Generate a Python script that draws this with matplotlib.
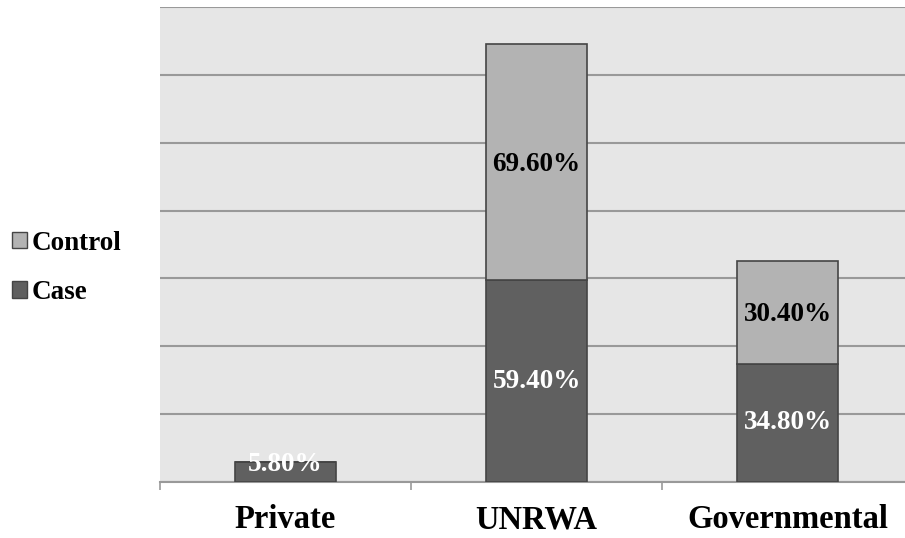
import matplotlib.pyplot as plt
from matplotlib.patches import Patch

categories = ["Private", "UNRWA", "Governmental"]
case_vals = [5.8, 59.4, 34.8]
control_vals = [0.0, 69.6, 30.4]

plt.rcParams['font.family'] = ['Liberation Serif', 'DejaVu Serif']

fig = plt.figure(figsize=(9.05, 5.38), dpi=100)
# plot area runs a little past the right edge, as in the original
ax = fig.add_axes([160 / 905, 56 / 538, 753 / 905, 475 / 538])
ax.set_facecolor('#e6e6e6')

x = list(range(len(categories)))
case_col = '#606060'
ctrl_col = '#b3b3b3'
edge = '#454545'

ax.bar(x, case_vals, width=0.4, color=case_col, edgecolor=edge, linewidth=1.2, zorder=3)
ax.bar(x, control_vals, width=0.4, bottom=case_vals, color=ctrl_col, edgecolor=edge,
       linewidth=1.2, zorder=3)

for i in x:
    c = case_vals[i]
    yc = c / 2 if c > 10 else c - 0.6
    ax.text(i, yc, f"{c:.2f}%", ha='center', va='center', color='white',
            fontsize=19.5, fontweight='bold', zorder=4)
    k = control_vals[i]
    if k > 0:
        ax.text(i, c + k / 2 - 0.6, f"{k:.2f}%", ha='center', va='center', color='black',
                fontsize=19.5, fontweight='bold', zorder=4)

ax.set_xlim(-0.5, 2.5)
ax.set_ylim(0, 140)
ax.set_yticks(range(0, 141, 20))
ax.yaxis.grid(True, color='#999999', linewidth=1.5, zorder=0)
ax.tick_params(axis='y', left=False, labelleft=False)

ax.set_xticks([-0.5, 0.5, 1.5], minor=True)
ax.set_xticks(x)
ax.set_xticklabels(categories, fontsize=23.5, fontweight='bold')
ax.tick_params(axis='x', which='major', length=0, pad=16)
ax.tick_params(axis='x', which='minor', length=6, color='#999999', width=1.2)

for s in ['top', 'right', 'left']:
    ax.spines[s].set_visible(False)
ax.spines['bottom'].set_color('#999999')
ax.spines['bottom'].set_linewidth(1.5)

handles = [Patch(facecolor=ctrl_col, edgecolor=edge, label='Control'),
           Patch(facecolor=case_col, edgecolor=edge, label='Case')]
fig.legend(handles=handles, loc='center left', bbox_to_anchor=(-0.008, 0.502),
           frameon=False, prop={'size': 19.5, 'weight': 'bold'},
           handlelength=0.55, handleheight=0.55, handletextpad=0.2, labelspacing=0.9,
           borderaxespad=0.3)

fig.savefig('out.png', dpi=100)
